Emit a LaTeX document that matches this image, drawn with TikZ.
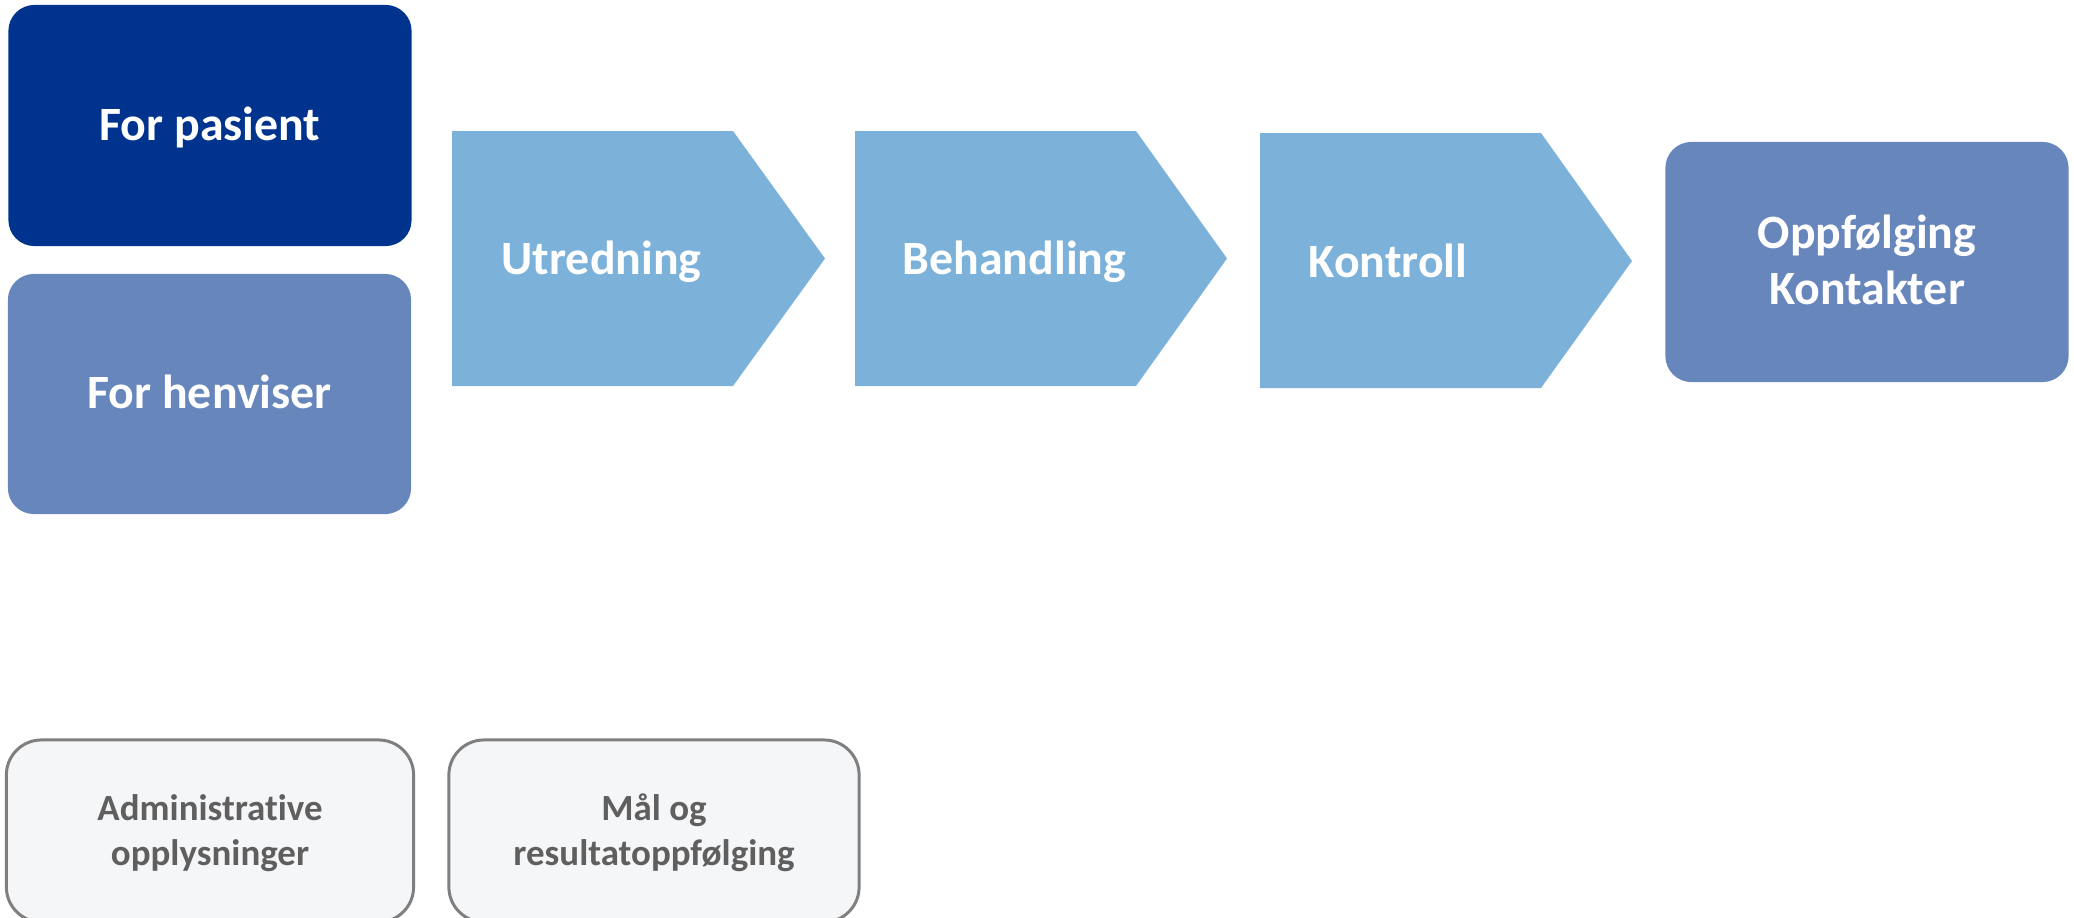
\documentclass[tikz,border=0pt]{standalone}
\usepackage{fontspec}
\setmainfont{Carlito}[Ligatures=NoCommon]
\definecolor{navy}{RGB}{0,51,141}
\definecolor{midblue}{RGB}{102,134,188}
\definecolor{lightblue}{RGB}{124,177,218}
\definecolor{boxgray}{RGB}{245,246,248}
\definecolor{linegray}{RGB}{127,127,127}
\definecolor{textgray}{RGB}{95,95,95}
\begin{document}
\begin{tikzpicture}[x=0.01cm,y=-0.01cm]
  \useasboundingbox (0,0) rectangle (2074,918);

  % top boxes
  \begin{scope}[every node/.style={rounded corners=0.26cm, minimum width=4.03cm, minimum height=2.41cm,
      text=white, font=\fontsize{13.6}{15.9}\selectfont\bfseries, align=center,
      text height=8.5pt, text depth=0pt, inner sep=0pt}]
    \node[fill=navy]    (pasient)  at (210,125.5) {For pasient};
    \node[fill=midblue, minimum height=2.4cm] (henviser) at (209.5,394) {For henviser};
    \node[fill=midblue, minimum height=2.4cm, text height=24.4pt] (oppfolging) at (1867,262) {Oppfølging\\Kontakter};
  \end{scope}

  % steps
  \begin{scope}[every node/.style={text=white, font=\fontsize{13.6}{15.9}\selectfont\bfseries,
      inner sep=0pt, anchor=base west}]
    \fill[lightblue] (452,131) -- (733,131) -- (825,258.5) -- (733,386) -- (452,386) -- cycle;
    \fill[lightblue] (855,131) -- (1136,131) -- (1227,258.5) -- (1136,386) -- (855,386) -- cycle;
    \fill[lightblue] (1260,133) -- (1541,133) -- (1632,261) -- (1541,388) -- (1260,388) -- cycle;
    \node (utredning)  at (501,274)  {Utredning};
    \node (behandling) at (902,274)  {Behandling};
    \node (kontroll)   at (1308,277) {Kontroll};
  \end{scope}

  % bottom boxes
  \begin{scope}[every node/.style={draw=linegray, line width=0.85pt, fill=boxgray, rounded corners=0.35cm,
      minimum width=4.07cm, minimum height=1.82cm, text=textgray,
      font=\fontsize{10.5}{12.8}\selectfont\bfseries, align=center, inner sep=0pt,
      text height=19.4pt, text depth=0pt}]
    \node (admin) at (210,831) {Administrative\\opplysninger};
    \node[minimum width=4.1cm] (maal) at (654,831) {Mål og\\resultatoppfølging};
  \end{scope}

\end{tikzpicture}
\end{document}
